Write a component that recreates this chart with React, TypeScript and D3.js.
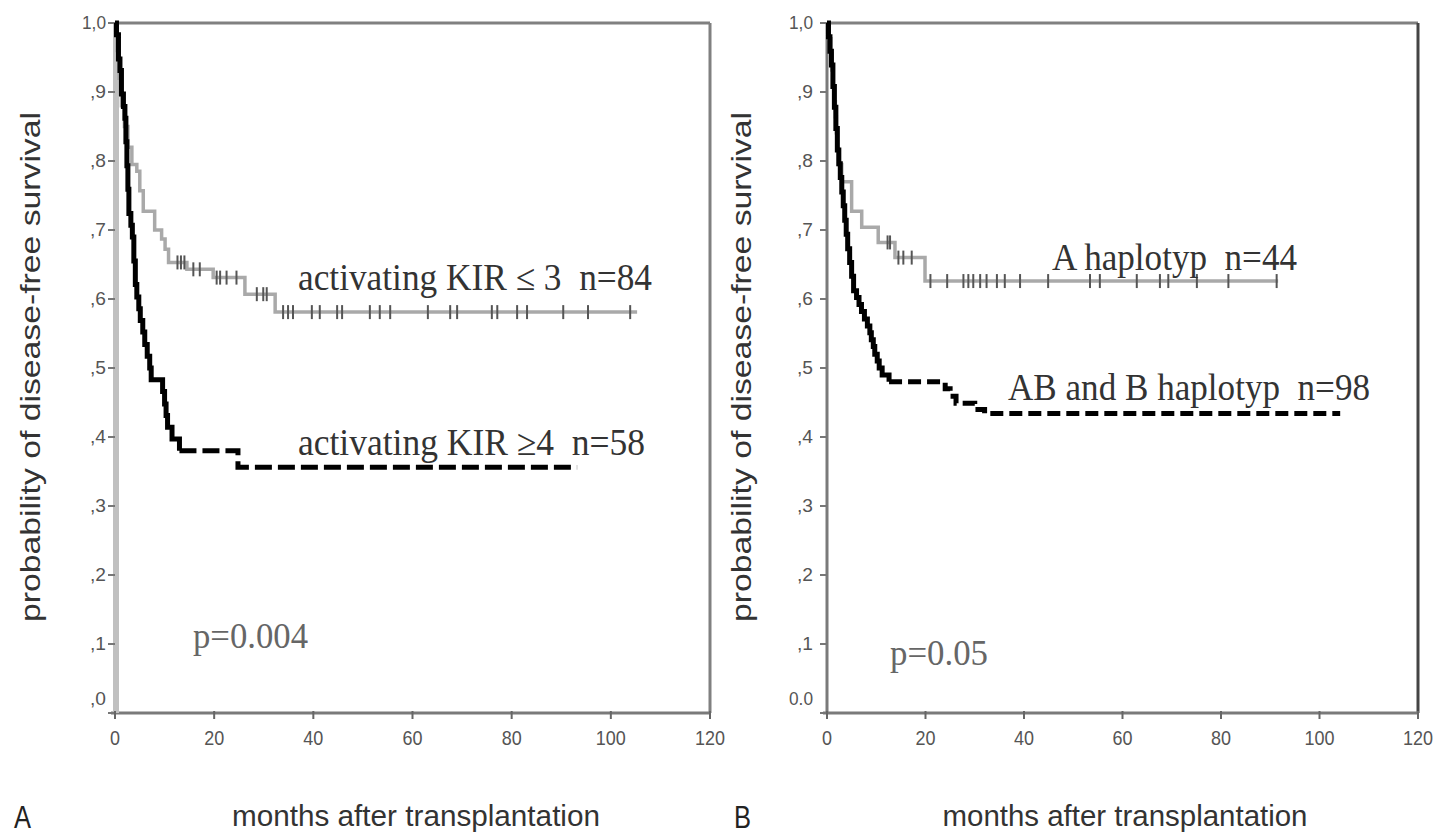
import React from 'react';
import * as d3 from 'd3';

// ---------- data ----------
const xTickValues = [0, 20, 40, 60, 80, 100, 120];
const yTickValues = [0, 0.1, 0.2, 0.3, 0.4, 0.5, 0.6, 0.7, 0.8, 0.9, 1.0];
const yTickLabelsA = [',0', ',1', ',2', ',3', ',4', ',5', ',6', ',7', ',8', ',9', '1,0'];
const yTickLabelsB = ['0.0', ',1', ',2', ',3', ',4', ',5', ',6', ',7', ',8', ',9', '1,0'];

// Panel A: activating KIR <= 3 (gray)
const aLowTimes = [0, 0.4, 0.8, 1.3, 1.9, 2.6, 3.4, 4.4, 5.0, 5.7, 8.0, 9.4, 10.1, 10.8, 14.5, 19.8, 26.2, 32.3];
const aLowSurv = [1.0, 0.96, 0.92, 0.88, 0.85, 0.82, 0.795, 0.785, 0.757, 0.727, 0.70, 0.687, 0.672, 0.653, 0.643, 0.631, 0.607, 0.581];
const aLowEnd = 105.3;
const aLowCensor = [12.6, 13.3, 14.0, 15.8, 17.1, 20.5, 21.2, 22.5, 24.5, 28.6, 29.9, 30.6,
  33.9, 34.9, 35.9, 39.7, 41.3, 44.8, 45.8, 51.4, 53.4, 55.5, 63.1, 67.6, 69.0, 76.0, 77.1, 81.1, 83.1, 90.4, 95.4, 103.9];

// Panel A: activating KIR >= 4 (black)
const aHighTimes = [0, 0.3, 0.7, 1.0, 1.3, 1.7, 2.0, 2.2, 2.4, 2.6, 2.8, 3.2, 3.5, 3.8, 4.1, 4.4, 4.8, 5.1, 5.6, 6.0, 6.5, 7.0, 7.3, 9.6, 10.0, 10.3, 10.6, 11.5, 13.0, 24.8];
const aHighSurv = [1.0, 0.983, 0.948, 0.931, 0.897, 0.879, 0.862, 0.828, 0.793, 0.759, 0.724, 0.707, 0.69, 0.655, 0.621, 0.603, 0.586, 0.569, 0.552, 0.534, 0.517, 0.5, 0.483, 0.466, 0.448, 0.431, 0.414, 0.397, 0.38, 0.356];
const aHighEnd = 93.2;

// Panel B: A haplotyp (gray)
const bATimes = [0, 0.4, 0.8, 1.0, 1.2, 1.5, 1.7, 1.9, 2.1, 2.3, 3.0, 5.0, 7.05, 10.4, 13.8, 19.9];
const bASurv = [1.0, 0.977, 0.955, 0.932, 0.909, 0.886, 0.864, 0.841, 0.818, 0.795, 0.77, 0.727, 0.704, 0.682, 0.66, 0.626];
const bAEnd = 91.6;
const bACensor = [12.3, 12.8, 14.5, 15.5, 17.2, 21.0, 24.4, 27.7, 28.7, 29.7, 31.1, 32.4, 34.5, 36.1, 39.2, 44.9, 53.4, 55.4, 62.9, 67.6, 69.3, 75.1, 81.5, 91.3];

// Panel B: AB and B haplotyp (black)
const bABTimes = [0, 0.3, 0.6, 0.9, 1.2, 1.5, 1.8, 2.1, 2.4, 2.7, 3.0, 3.3, 3.6, 3.9, 4.2, 4.6, 5.0, 5.4, 6.0, 6.5, 7.0, 7.6, 8.2, 8.7, 9.0, 9.4, 9.7, 10.2, 10.6, 11.2, 12.6, 24.0, 25.0, 26.2, 30.0, 32.0];
const bABSurv = [1.0, 0.98, 0.959, 0.939, 0.908, 0.878, 0.847, 0.816, 0.796, 0.776, 0.755, 0.735, 0.714, 0.694, 0.673, 0.653, 0.633, 0.612, 0.602, 0.592, 0.582, 0.571, 0.561, 0.551, 0.541, 0.531, 0.52, 0.51, 0.5, 0.49, 0.48, 0.47, 0.459, 0.449, 0.44, 0.434];
const bABEnd = 104.2;

// ---------- helpers ----------
type Pt = [number, number];

function survAt(times: number[], surv: number[], t: number) {
  let v = surv[0];
  for (let i = 0; i < times.length; i++) if (times[i] <= t) v = surv[i];
  return v;
}

function stepPoints(times: number[], surv: number[], end: number, from = -Infinity, to = Infinity): Pt[] {
  const pts: Pt[] = [];
  const start = Math.max(from, times[0]);
  const stop = Math.min(to, end);
  pts.push([start, survAt(times, surv, start)]);
  for (let i = 0; i < times.length; i++) {
    if (times[i] > start && times[i] < stop) pts.push([times[i], surv[i]]);
  }
  pts.push([stop, survAt(times, surv, stop)]);
  return pts;
}

interface PanelProps {
  x0: number; x1: number; y0: number; y1: number;
  yLabels: string[];
  leftAxisColor: string; leftAxisWidth: number; leftAxisX: number;
  rightColor: string;
  labelGap: number;
  gray: { times: number[]; surv: number[]; end: number; censor: number[] };
  black: { times: number[]; surv: number[]; end: number; dashFrom: number; dash: string };
}

const sans = 'Liberation Sans, Arial, sans-serif';
const serif = 'Liberation Serif, Times New Roman, serif';

function Panel(p: PanelProps) {
  const x = d3.scaleLinear().domain([0, 120]).range([p.x0, p.x1]);
  const y = d3.scaleLinear().domain([0, 1]).range([p.y0, p.y1]);
  const line = d3.line<Pt>().x(d => x(d[0])).y(d => y(d[1])).curve(d3.curveStepAfter);

  const grayPath = line(stepPoints(p.gray.times, p.gray.surv, p.gray.end)) || '';
  const blackSolid = line(stepPoints(p.black.times, p.black.surv, p.black.end, -Infinity, p.black.dashFrom)) || '';
  const blackDash = line(stepPoints(p.black.times, p.black.surv, p.black.end, p.black.dashFrom)) || '';

  return (
    <g>
      {/* frame */}
      <line x1={p.x0} x2={p.x1} y1={p.y1} y2={p.y1} stroke="#808080" strokeWidth={3} />
      <line x1={p.x1} x2={p.x1} y1={p.y1} y2={p.y0} stroke={p.rightColor} strokeWidth={3} />
      <line x1={p.x0 - 4} x2={p.x1} y1={p.y0} y2={p.y0} stroke="#7a7a7a" strokeWidth={3} />
      <line x1={p.leftAxisX} x2={p.leftAxisX} y1={p.y1} y2={p.y0} stroke={p.leftAxisColor} strokeWidth={p.leftAxisWidth} />
      {/* y ticks */}
      {yTickValues.map((v, i) => (
        <g key={'y' + i}>
          <line x1={p.x0 - 7} x2={p.x0} y1={y(v)} y2={y(v)} stroke="#777" strokeWidth={2} />
          <text x={p.x0 - p.labelGap} y={y(v) - (v === 0 ? 14 : 0) + 1} textAnchor="end" dominantBaseline="middle"
            fontFamily={sans} fontSize={19} fill="#555"
            textLength={p.yLabels[i].length * 8} lengthAdjust="spacingAndGlyphs">{p.yLabels[i]}</text>
        </g>
      ))}
      {/* x ticks */}
      {xTickValues.map((v, i) => (
        <g key={'x' + i}>
          <line x1={x(v)} x2={x(v)} y1={p.y0 - 2} y2={p.y0 + 6} stroke="#666" strokeWidth={2} />
          <text x={x(v)} y={p.y0 + 26} textAnchor="middle" dominantBaseline="middle"
            fontFamily={sans} fontSize={21} fill="#555"
            textLength={String(v).length * 10} lengthAdjust="spacingAndGlyphs">{v}</text>
        </g>
      ))}
      {/* curves */}
      <path d={grayPath} fill="none" stroke="#a9a9a9" strokeWidth={3.5} />
      {p.gray.censor.map((t, i) => {
        const cx = x(t);
        const cy = y(survAt(p.gray.times, p.gray.surv, t));
        return <line key={'c' + i} x1={cx} x2={cx} y1={cy - 7} y2={cy + 7} stroke="#555" strokeWidth={2} />;
      })}
      <path d={blackSolid} fill="none" stroke="#000" strokeWidth={5} />
      <path d={blackDash} fill="none" stroke="#000" strokeWidth={5} strokeDasharray={p.black.dash} />
    </g>
  );
}

const pre = { whiteSpace: 'pre' as const };

export default function App() {
  return (
    <div style={{ position: 'absolute', left: 0, top: 0 }}>
      <svg width={1439} height={836} viewBox="0 0 1439 836" style={{ display: 'block', background: '#fff' }}>
        <rect x={0} y={0} width={1439} height={836} fill="#fff" />
        <Panel x0={115} x1={710} y0={713} y1={23} yLabels={yTickLabelsA}
          leftAxisColor="#c0c0c0" leftAxisWidth={6} leftAxisX={116} rightColor="#808080" labelGap={9}
          gray={{ times: aLowTimes, surv: aLowSurv, end: aLowEnd, censor: aLowCensor }}
          black={{ times: aHighTimes, surv: aHighSurv, end: aHighEnd, dashFrom: 13.0, dash: '17 6' }} />
        <Panel x0={827} x1={1418} y0={713} y1={23} yLabels={yTickLabelsB}
          leftAxisColor="#7a7a7a" leftAxisWidth={3} leftAxisX={827} rightColor="#444" labelGap={14}
          gray={{ times: bATimes, surv: bASurv, end: bAEnd, censor: bACensor }}
          black={{ times: bABTimes, surv: bABSurv, end: bABEnd, dashFrom: 12.6, dash: '13 6' }} />

        {/* curve labels */}
        <text x={298} y={290} style={pre} fontFamily={serif} fontSize={37} fill="#333" textLength={354} lengthAdjust="spacingAndGlyphs">activating KIR ≤ 3  n=84</text>
        <text x={298} y={455} style={pre} fontFamily={serif} fontSize={37} fill="#333" textLength={347} lengthAdjust="spacingAndGlyphs">activating KIR ≥4  n=58</text>
        <text x={1052} y={270} style={pre} fontFamily={serif} fontSize={37} fill="#333" textLength={245} lengthAdjust="spacingAndGlyphs">A haplotyp  n=44</text>
        <text x={1008} y={400} style={pre} fontFamily={serif} fontSize={37} fill="#333" textLength={362} lengthAdjust="spacingAndGlyphs">AB and B haplotyp  n=98</text>
        <text x={193} y={648} fontFamily={serif} fontSize={36} fill="#666" textLength={115} lengthAdjust="spacingAndGlyphs">p=0.004</text>
        <text x={890} y={665} fontFamily={serif} fontSize={36} fill="#666" textLength={98} lengthAdjust="spacingAndGlyphs">p=0.05</text>

        {/* axis titles */}
        <text transform="translate(40,367) rotate(-90)" textAnchor="middle" fontFamily={sans} fontSize={28} fill="#333"
          textLength={510} lengthAdjust="spacingAndGlyphs">probability of disease-free survival</text>
        <text transform="translate(751,367) rotate(-90)" textAnchor="middle" fontFamily={sans} fontSize={28} fill="#333"
          textLength={510} lengthAdjust="spacingAndGlyphs">probability of disease-free survival</text>
        <text x={416} y={826} textAnchor="middle" fontFamily={sans} fontSize={30} fill="#333"
          textLength={368} lengthAdjust="spacingAndGlyphs">months after transplantation</text>
        <text x={1125} y={826} textAnchor="middle" fontFamily={sans} fontSize={30} fill="#333"
          textLength={365} lengthAdjust="spacingAndGlyphs">months after transplantation</text>
        <text x={14} y={828} fontFamily={sans} fontSize={32} fill="#222" textLength={17} lengthAdjust="spacingAndGlyphs">A</text>
        <text x={734} y={828} fontFamily={sans} fontSize={32} fill="#222" textLength={17} lengthAdjust="spacingAndGlyphs">B</text>
      </svg>
    </div>
  );
}
